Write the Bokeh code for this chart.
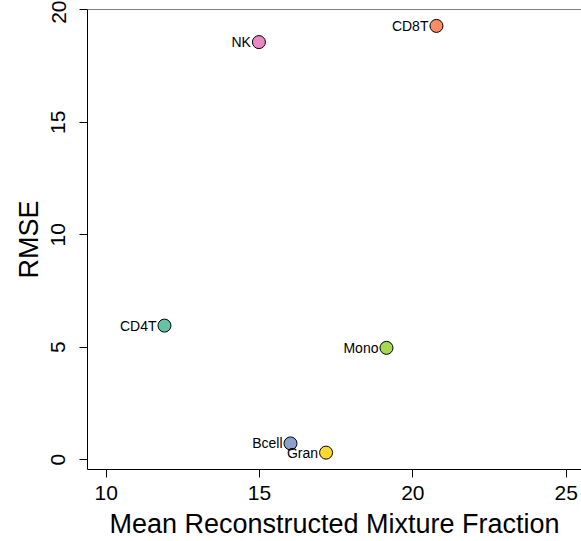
from bokeh.plotting import figure
from bokeh.models import ColumnDataSource, Range1d, FixedTicker, Span
from bokeh.core.properties import value
from bokeh.embed import file_html
from bokeh.resources import INLINE

cell_types = ["CD4T", "CD8T", "Bcell", "NK", "Mono", "Gran"]
mean_fraction = [11.90, 20.77, 16.01, 14.98, 19.14, 17.17]
rmse = [5.96, 19.29, 0.72, 18.57, 4.97, 0.31]
colors = ["#66C2A5", "#FC8D62", "#8DA0CB", "#E78AC3", "#A6D854", "#FFD92F"]
x_ticks = [10, 15, 20, 25]
y_ticks = [0, 5, 10, 15, 20]

FONT = "Liberation Sans"

src = ColumnDataSource(dict(x=mean_fraction, y=rmse, name=cell_types, color=colors))

p = figure(width=581, height=541,
           x_range=Range1d(9.39, 25.50), y_range=Range1d(-0.44, 20.02),
           output_backend="svg", toolbar_location=None,
           min_border_left=87, min_border_right=0, min_border_top=9, min_border_bottom=72,
           background_fill_color="white", border_fill_color="white")
p.outline_line_color = None
p.xgrid.visible = False
p.ygrid.visible = False

p.xaxis.ticker = FixedTicker(ticks=x_ticks)
p.yaxis.ticker = FixedTicker(ticks=y_ticks)
p.xaxis.axis_label = "Mean Reconstructed Mixture Fraction"
p.yaxis.axis_label = "RMSE"
p.yaxis.major_label_orientation = "vertical"

for ax in (p.xaxis[0], p.yaxis[0]):
    ax.axis_line_color = "black"
    ax.axis_line_width = 1
    ax.major_tick_line_color = "black"
    ax.major_tick_out = 8
    ax.major_tick_in = 0
    ax.minor_tick_line_color = None
    ax.major_label_text_font = FONT
    ax.major_label_text_font_size = "21px"
    ax.major_label_text_color = "black"
    ax.axis_label_text_font = FONT
    ax.axis_label_text_font_size = "27px"
    ax.axis_label_text_font_style = "normal"
    ax.axis_label_text_color = "black"
p.xaxis.major_label_standoff = 8
p.xaxis.axis_label_standoff = 6
p.yaxis.major_label_standoff = 14
p.yaxis.axis_label_standoff = 5

p.add_layout(Span(location=20.02, dimension="width", line_color="black", line_width=1))

p.scatter(x="x", y="y", source=src, size=13, fill_color="color",
          line_color="black", line_width=1)
p.text(x="x", y="y", text="name", source=src, x_offset=-8,
       text_align="right", text_baseline="middle",
       text_font=value(FONT), text_font_size="14px", text_color="black")

open("out.html", "w").write(file_html(p, INLINE))
